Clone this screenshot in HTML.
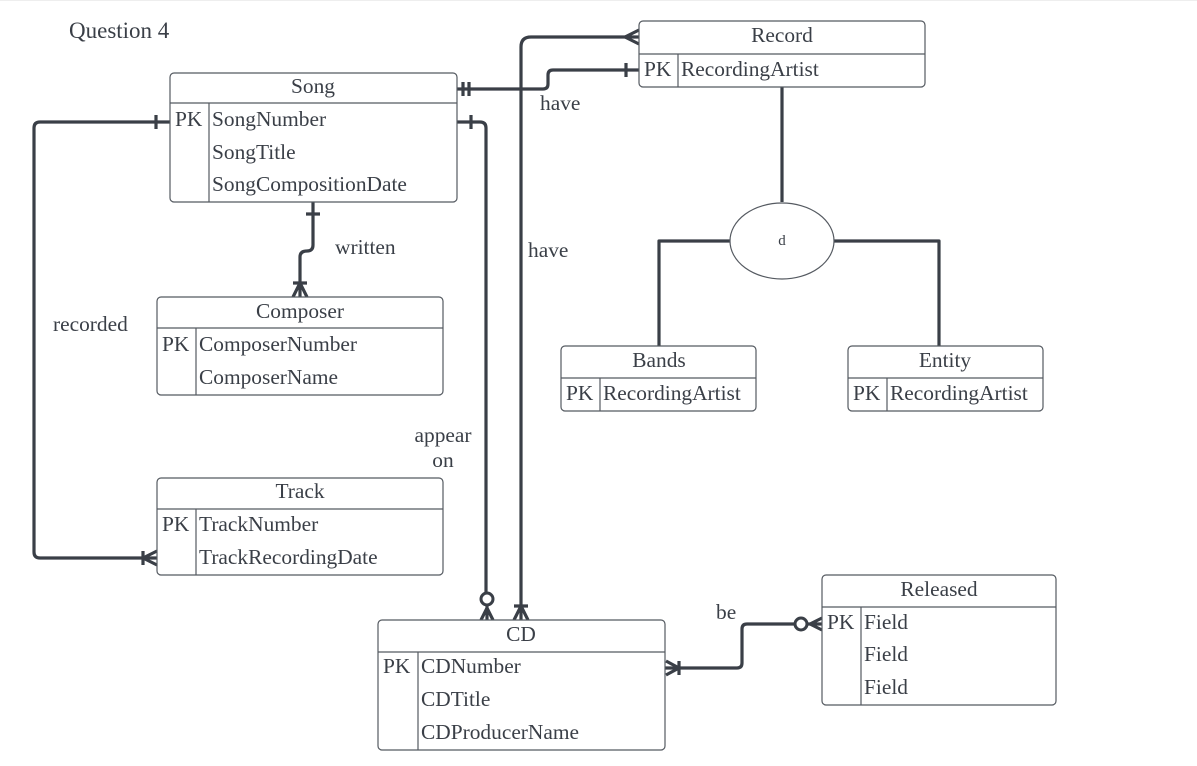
<!DOCTYPE html>
<html><head><meta charset="utf-8"><style>
html,body{margin:0;padding:0;background:#fff;}
svg{display:block;}
text{font-family:"Liberation Serif",serif;fill:#3a3f47;font-size:21.4px;}
.b{fill:#fff;stroke:#555a61;stroke-width:1.2;}
.d{stroke:#555a61;stroke-width:1.2;fill:none;}
.l{stroke:#3a3f47;stroke-width:3.2;fill:none;stroke-linejoin:round;}
</style></head><body>
<svg width="1197" height="766" viewBox="0 0 1197 766">
<rect x="0" y="0" width="1197" height="766" fill="#fff"/>
<line x1="0" y1="0.5" x2="1197" y2="0.5" stroke="#eee"/>
<text x="69" y="38" style="font-size:23px">Question 4</text>

<path class="l" d="M782 87 V202"/>
<path class="l" d="M730 241 H659 V346"/>
<path class="l" d="M834 241 H939 V346"/>
<path class="l" d="M457 89 H543 Q548 89 548 84 V75 Q548 70 553 70 H639"/>
<path class="l" d="M463 82 V96 M469 82 V96 M626 63 V77"/>
<path class="l" d="M521 620 V47 Q521 37 531 37 H639"/>
<path class="l" d="M625 37 L639 30 M625 37 L639 44 M514 606 H528 M521 606 L514 620 M521 606 L528 620"/>
<path class="l" d="M457 122 H480 Q486 122 486 128 V592"/>
<path class="l" d="M471 115 V129"/>
<circle cx="487" cy="599" r="6" fill="#fff" stroke="#3a3f47" stroke-width="3"/>
<path class="l" d="M487 606 V620 M487 608 L481 620 M487 608 L493 620"/>
<path class="l" d="M170 122 H40 Q34 122 34 128 V552 Q34 558 40 558 H157"/>
<path class="l" d="M156 115 V129 M143 551 V565 M143 558 L157 551 M143 558 L157 565"/>
<path class="l" d="M313 202 V245 Q313 251 307 251 Q300 251 300 257 V297"/>
<path class="l" d="M306 214 H320 M293 283 H307 M300 283 L293 297 M300 283 L307 297"/>
<path class="l" d="M665 668 H737 Q742 668 742 663 V629 Q742 624 747 624 H794"/>
<path class="l" d="M679 661 V675 M679 668 L666 661 M679 668 L666 675"/>
<circle cx="801" cy="624" r="6" fill="#fff" stroke="#3a3f47" stroke-width="3"/>
<path class="l" d="M808 624 H822 M810 624 L822 618 M810 624 L822 630"/>

<rect class="b" x="170" y="73" width="287" height="129" rx="4"/>
<path class="d" d="M170 103 H457 M209 103 V202"/>
<text x="313" y="93" text-anchor="middle">Song</text>
<text x="175" y="126">PK</text>
<text x="212" y="126">SongNumber</text>
<text x="212" y="159">SongTitle</text>
<text x="212" y="191">SongCompositionDate</text>

<rect class="b" x="157" y="297" width="286" height="98" rx="4"/>
<path class="d" d="M157 328 H443 M196 328 V395"/>
<text x="300" y="318" text-anchor="middle">Composer</text>
<text x="162" y="351">PK</text>
<text x="199" y="351">ComposerNumber</text>
<text x="199" y="384">ComposerName</text>

<rect class="b" x="157" y="478" width="286" height="97" rx="4"/>
<path class="d" d="M157 509 H443 M196 509 V575"/>
<text x="300" y="498" text-anchor="middle">Track</text>
<text x="162" y="531">PK</text>
<text x="199" y="531">TrackNumber</text>
<text x="199" y="564">TrackRecordingDate</text>

<rect class="b" x="378" y="620" width="287" height="130" rx="4"/>
<path class="d" d="M378 652 H665 M418 652 V750"/>
<text x="521" y="641" text-anchor="middle">CD</text>
<text x="383" y="673">PK</text>
<text x="421" y="673">CDNumber</text>
<text x="421" y="706">CDTitle</text>
<text x="421" y="739">CDProducerName</text>

<rect class="b" x="822" y="575" width="234" height="130" rx="4"/>
<path class="d" d="M822 607 H1056 M861 607 V705"/>
<text x="939" y="596" text-anchor="middle">Released</text>
<text x="827" y="629">PK</text>
<text x="864" y="629">Field</text>
<text x="864" y="661">Field</text>
<text x="864" y="694">Field</text>

<rect class="b" x="639" y="21" width="286" height="66" rx="4"/>
<path class="d" d="M639 54 H925 M678 54 V87"/>
<text x="782" y="42" text-anchor="middle">Record</text>
<text x="644" y="76">PK</text>
<text x="681" y="76">RecordingArtist</text>

<rect class="b" x="561" y="346" width="195" height="65" rx="4"/>
<path class="d" d="M561 378 H756 M600 378 V411"/>
<text x="659" y="367" text-anchor="middle">Bands</text>
<text x="566" y="400">PK</text>
<text x="603" y="400">RecordingArtist</text>

<rect class="b" x="848" y="346" width="195" height="65" rx="4"/>
<path class="d" d="M848 378 H1043 M887 378 V411"/>
<text x="945" y="367" text-anchor="middle">Entity</text>
<text x="853" y="400">PK</text>
<text x="890" y="400">RecordingArtist</text>

<ellipse cx="782" cy="241" rx="52" ry="38" fill="#fff" stroke="#555a61" stroke-width="1.2"/>
<text x="782" y="245" text-anchor="middle" style="font-size:15px">d</text>

<text x="540" y="110">have</text>
<text x="528" y="257">have</text>
<text x="335" y="254">written</text>
<text x="53" y="331">recorded</text>
<text x="443" y="442" text-anchor="middle">appear</text>
<text x="443" y="467" text-anchor="middle">on</text>
<text x="716" y="619">be</text>
</svg>
</body></html>
